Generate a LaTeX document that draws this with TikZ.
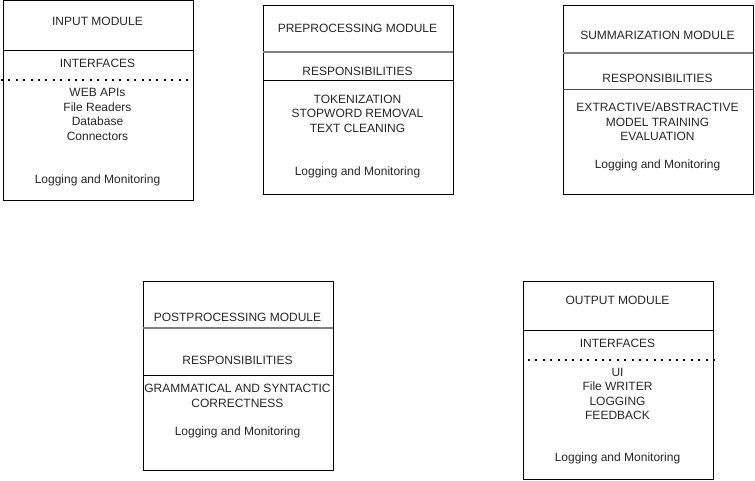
\documentclass[tikz,border=0pt]{standalone}
\usepackage{fontspec}
\setmainfont{Liberation Sans}
\begin{document}
\begin{tikzpicture}[x=1pt,y=-1pt,
  modbox/.style={draw=black,line width=1pt,anchor=north west,inner sep=0pt},
  lbl/.style={text=black!85,font=\fontsize{12}{14.5}\selectfont,align=center,inner sep=0pt},
  blackdiv/.style={draw=black,line width=1pt},
  graydiv/.style={draw=black!50,line width=2pt},
  dotdiv/.style={draw=black,line width=2pt,dash pattern=on 2pt off 5.4pt}]
\useasboundingbox (0,0) rectangle (755,481);
% Input module
\node[modbox,minimum width=190pt,minimum height=200pt] (inb) at (2.5,0.5) {};
\coordinate (in1l) at (2.5,50.5); \coordinate (in1r) at (192.5,50.5);
\draw[blackdiv] (in1l) -- (in1r);
\coordinate (in2l) at (1,80.5); \coordinate (in2r) at (192,80.5);
\draw[dotdiv] (in2l) -- (in2r);
\node[lbl] (intitle) at (97.5,21) {INPUT MODULE};
\node[lbl] (inif) at (97.5,63) {INTERFACES};
\node[lbl] (inlist) at (97.5,114.5) {WEB APIs\\File Readers\\Database\\Connectors};
\node[lbl] (inlog) at (97.5,180) {Logging and Monitoring};
% Preprocessing module
\node[modbox,minimum width=190pt,minimum height=189pt] (preb) at (262.5,5.5) {};
\coordinate (pre1l) at (262.5,52.5); \coordinate (pre1r) at (452.5,52.5);
\draw[graydiv] (pre1l) -- (pre1r);
\coordinate (pre2l) at (262.5,80.5); \coordinate (pre2r) at (452.5,80.5);
\draw[blackdiv] (pre2l) -- (pre2r);
\node[lbl] (pretitle) at (357.5,28) {PREPROCESSING MODULE};
\node[lbl] (preresp) at (357.5,71.5) {RESPONSIBILITIES};
\node[lbl] (prelist) at (357.5,113.5) {TOKENIZATION\\STOPWORD REMOVAL\\TEXT CLEANING};
\node[lbl] (prelog) at (357.5,172) {Logging and Monitoring};
% Summarization module
\node[modbox,minimum width=190pt,minimum height=189pt] (sumb) at (562.5,5.5) {};
\coordinate (sum1l) at (562.5,53); \coordinate (sum1r) at (752.5,53);
\draw[graydiv] (sum1l) -- (sum1r);
\coordinate (sum2l) at (562.5,89.5); \coordinate (sum2r) at (752.5,89.5);
\draw[draw=black!70,line width=1.3pt] (sum2l) -- (sum2r);
\node[lbl] (sumtitle) at (657.5,35.5) {SUMMARIZATION MODULE};
\node[lbl] (sumresp) at (657.5,78.5) {RESPONSIBILITIES};
\node[lbl] (sumlist) at (657.5,122) {EXTRACTIVE/ABSTRACTIVE\\MODEL TRAINING\\EVALUATION};
\node[lbl] (sumlog) at (657.5,165) {Logging and Monitoring};
% Postprocessing module
\node[modbox,minimum width=190pt,minimum height=189pt] (postb) at (142.5,281) {};
\coordinate (post1l) at (142.5,327.5); \coordinate (post1r) at (332.5,327.5);
\draw[graydiv] (post1l) -- (post1r);
\coordinate (post2l) at (142.5,375.5); \coordinate (post2r) at (332.5,375.5);
\draw[blackdiv] (post2l) -- (post2r);
\node[lbl] (posttitle) at (237.5,317.5) {POSTPROCESSING MODULE};
\node[lbl] (postresp) at (237.5,360.5) {RESPONSIBILITIES};
\node[lbl] (postlist) at (237.5,396) {GRAMMATICAL AND SYNTACTIC\\CORRECTNESS};
\node[lbl] (postlog) at (237.5,432.5) {Logging and Monitoring};
% Output module
\node[modbox,minimum width=190pt,minimum height=198pt] (outb) at (522.5,281) {};
\coordinate (out1l) at (522.5,330.5); \coordinate (out1r) at (712.5,330.5);
\draw[blackdiv] (out1l) -- (out1r);
\coordinate (out2l) at (528,359.5); \coordinate (out2r) at (715,359.5);
\draw[dotdiv] (out2l) -- (out2r);
\node[lbl] (outtitle) at (617.5,300.5) {OUTPUT MODULE};
\node[lbl] (outif) at (617.5,343.5) {INTERFACES};
\node[lbl] (outlist) at (617.5,394) {UI\\File WRITER\\LOGGING\\FEEDBACK};
\node[lbl] (outlog) at (617.5,458) {Logging and Monitoring};
\end{tikzpicture}
\end{document}
